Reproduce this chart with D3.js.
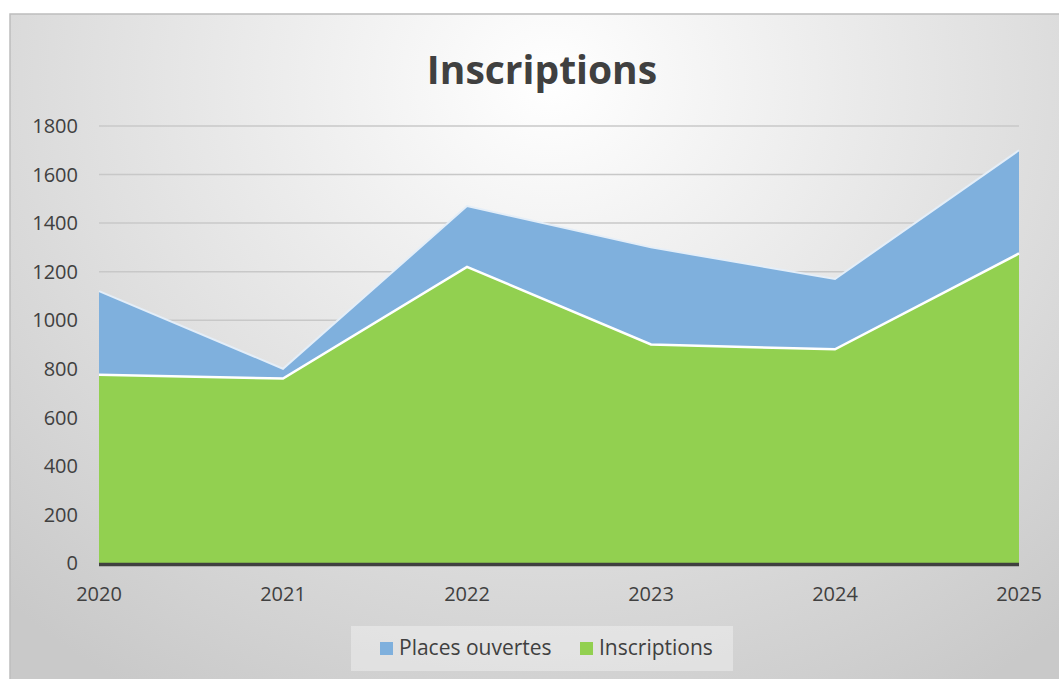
<!DOCTYPE html>
<html lang="fr">
<head>
<meta charset="UTF-8">
<title>Inscriptions</title>
<style>
  html, body { margin: 0; padding: 0; background: #fff; }
  svg text { font-family: "Open Sans", "Noto Sans", sans-serif; fill: #404040; }
</style>
</head>
<body>
<svg id="chart" width="1059" height="679"></svg>
<script src="https://cdn.jsdelivr.net/npm/d3@7"></script>
<script>
var years = ["2020", "2021", "2022", "2023", "2024", "2025"];
var placesOuvertes = [1120, 800, 1470, 1300, 1170, 1700];
var inscriptions = [775, 760, 1220, 900, 880, 1275];
var yTicks = [0, 200, 400, 600, 800, 1000, 1200, 1400, 1600, 1800];
var seriesNames = ["Places ouvertes", "Inscriptions"];
var seriesColors = ["#7fb0dd", "#92d050"];

var svg = d3.select("#chart");

// background with soft radial light
var defs = svg.append("defs");
var grad = defs.append("radialGradient")
    .attr("id", "bg")
    .attr("cx", "0.51").attr("cy", "0.1")
    .attr("r", "0.75")
    .attr("gradientTransform", "translate(0.51,0.1) scale(1,1.4) translate(-0.51,-0.1)");
grad.append("stop").attr("offset", "0").attr("stop-color", "#ffffff");
grad.append("stop").attr("offset", "1").attr("stop-color", "#c9c9c9");

svg.append("rect")
    .attr("x", 10).attr("y", 14)
    .attr("width", 1060).attr("height", 680)
    .attr("fill", "url(#bg)")
    .attr("stroke", "#bdbdbd")
    .attr("stroke-width", 1.5);

var x = d3.scalePoint()
    .domain(years)
    .range([99, 1019]);

var y = d3.scaleLinear()
    .domain([0, 1800])
    .range([563, 126]);

// gridlines
svg.append("g").selectAll("line")
    .data(yTicks.slice(1))
    .enter().append("line")
    .attr("x1", 99).attr("x2", 1019)
    .attr("y1", function(d) { return y(d); })
    .attr("y2", function(d) { return y(d); })
    .attr("stroke", "#c8c8c8")
    .attr("stroke-width", 1.5);

// title
svg.append("text")
    .attr("x", 542).attr("y", 84)
    .attr("text-anchor", "middle")
    .style("font-size", "39px")
    .style("font-weight", "bold")
    .text("Inscriptions");

function area(values) {
    return d3.area()
        .x(function(d, i) { return x(years[i]); })
        .y0(y(0))
        .y1(function(d) { return y(d); })(values);
}
function line(values) {
    return d3.line()
        .x(function(d, i) { return x(years[i]); })
        .y(function(d) { return y(d); })(values);
}

svg.append("path")
    .attr("d", area(placesOuvertes))
    .attr("fill", seriesColors[0]);
svg.append("path")
    .attr("d", line(placesOuvertes))
    .attr("fill", "none")
    .attr("stroke", "#e4eef8")
    .attr("stroke-width", 2);

svg.append("path")
    .attr("d", area(inscriptions))
    .attr("fill", seriesColors[1]);
svg.append("path")
    .attr("d", line(inscriptions))
    .attr("fill", "none")
    .attr("stroke", "#ffffff")
    .attr("stroke-width", 2.5);

// axis line at zero
svg.append("line")
    .attr("x1", 99).attr("x2", 1019)
    .attr("y1", y(0) + 1.5).attr("y2", y(0) + 1.5)
    .attr("stroke", "#404040")
    .attr("stroke-width", 3.5);

// y labels
svg.append("g").selectAll("text")
    .data(yTicks)
    .enter().append("text")
    .attr("x", 78)
    .attr("y", function(d) { return y(d); })
    .attr("dy", "0.36em")
    .attr("text-anchor", "end")
    .style("font-size", "20px")
    .text(function(d) { return d; });

// x labels
svg.append("g").selectAll("text")
    .data(years)
    .enter().append("text")
    .attr("x", function(d) { return x(d); })
    .attr("y", 601)
    .attr("text-anchor", "middle")
    .style("font-size", "20px")
    .text(function(d) { return d; });

// legend
svg.append("rect")
    .attr("x", 351).attr("y", 626)
    .attr("width", 382).attr("height", 45)
    .attr("fill", "#ffffff")
    .attr("fill-opacity", 0.35);

var legendX = [380, 580];
var lg = svg.append("g").selectAll("g")
    .data(seriesNames)
    .enter().append("g")
    .attr("transform", function(d, i) { return "translate(" + legendX[i] + ",642)"; });
lg.append("rect")
    .attr("width", 13).attr("height", 13)
    .attr("fill", function(d, i) { return seriesColors[i]; });
lg.append("text")
    .attr("x", 19).attr("y", 13)
    .style("font-size", "21px")
    .text(function(d) { return d; });
</script>
</body>
</html>
